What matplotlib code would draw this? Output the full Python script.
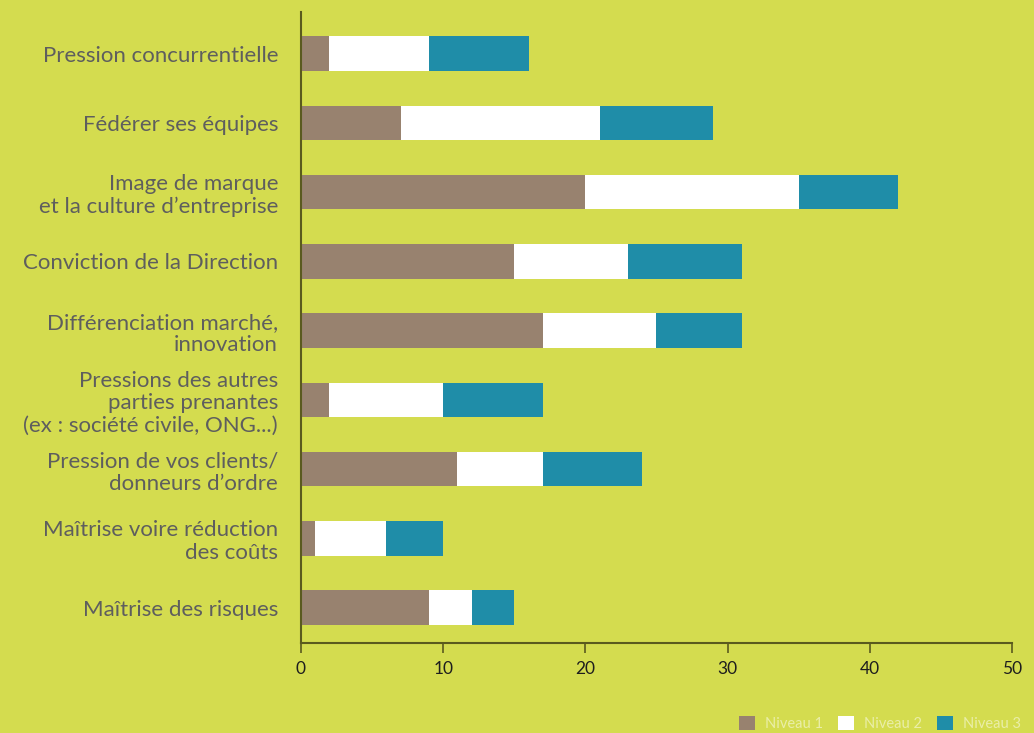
import matplotlib.pyplot as plt
import numpy as np

plt.rcParams['font.family'] = ['Lato', 'DejaVu Sans']

categories = [
    "Pression concurrentielle",
    "Fédérer ses équipes",
    "Image de marque\net la culture d\u2019entreprise",
    "Conviction de la Direction",
    "Différenciation marché,\ninnovation",
    "Pressions des autres\nparties prenantes\n(ex : société civile, ONG...)",
    "Pression de vos clients/\ndonneurs d\u2019ordre",
    "Maîtrise voire réduction\ndes coûts",
    "Maîtrise des risques",
]
niveau1 = [2, 7, 20, 15, 17, 2, 11, 1, 9]
niveau2 = [7, 14, 15, 8, 8, 8, 6, 5, 3]
niveau3 = [7, 8, 7, 8, 6, 7, 7, 4, 3]

bg = '#d4dc4f'
colors = ['#98826f', '#ffffff', '#1f8da8']
labels = ['Niveau 1', 'Niveau 2', 'Niveau 3']

fig = plt.figure(figsize=(10.34, 7.33), dpi=100, facecolor=bg)
ax = fig.add_axes([0.2911, 0.1228, 0.6876, 0.8608], facecolor=bg)

y = np.arange(len(categories))
left = np.zeros(len(categories))
for vals, c, lab in zip([niveau1, niveau2, niveau3], colors, labels):
    ax.barh(y, vals, left=left, height=0.5, color=c, label=lab)
    left += np.array(vals)

ax.set_ylim(8.51, -0.6)
ax.set_xlim(0, 50)
ax.set_xticks([0, 10, 20, 30, 40, 50])
ax.set_yticks(y)
ax.set_yticklabels(categories, fontsize=16, color='#5e5e5e', linespacing=1.15)
ax.tick_params(axis='y', length=0, pad=16.5)
ax.tick_params(axis='x', length=7, width=1.2, color='#5a5a1e', labelsize=12.5,
               labelcolor='#1e1e1e', pad=6)
for s in ['top', 'right']:
    ax.spines[s].set_visible(False)
for s in ['left', 'bottom']:
    ax.spines[s].set_color('#5a5a1e')
    ax.spines[s].set_linewidth(1.5)

fig.legend(loc='lower right', bbox_to_anchor=(1.0, -0.015), ncol=3, frameon=False,
           fontsize=10.5, labelcolor='#eaeea8',
           handlelength=1.1, handleheight=1.1, columnspacing=1.0, handletextpad=0.7)

fig.savefig('out.png', dpi=100, facecolor=bg)
